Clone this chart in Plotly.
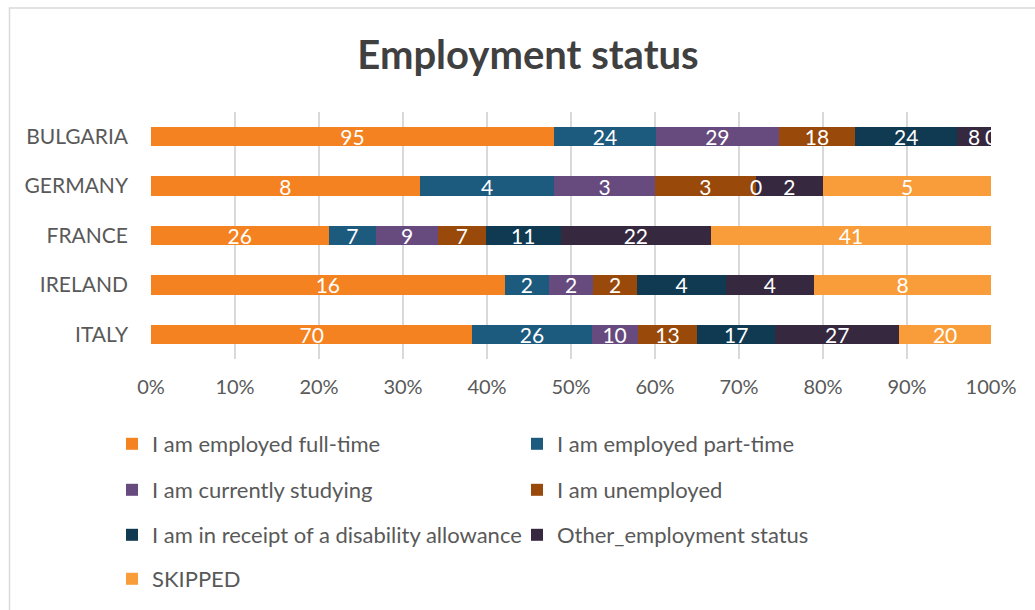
import plotly.graph_objects as go

# Survey counts per country, stacked to 100%
countries = ["ITALY", "IRELAND", "FRANCE", "GERMANY", "BULGARIA"]
statuses = [
    "I am employed full-time",
    "I am employed part-time",
    "I am currently studying",
    "I am unemployed",
    "I am in receipt of a disability allowance",
    "Other_employment status",
    "SKIPPED",
]
full_time = [70, 16, 26, 8, 95]
part_time = [26, 2, 7, 4, 24]
studying = [10, 2, 9, 3, 29]
unemployed = [13, 2, 7, 3, 18]
disability = [17, 4, 11, 0, 24]
other_status = [27, 4, 22, 2, 8]
skipped = [20, 8, 41, 5, 0]
x_ticks = [0, 10, 20, 30, 40, 50, 60, 70, 80, 90, 100]

series = [full_time, part_time, studying, unemployed, disability, other_status, skipped]
colors = ["#F58220", "#1D5B7E", "#674A7E", "#994A0A", "#103A52", "#36283F", "#F99D3A"]

FONT = "Lato"
GREY = "#595959"

# plot area in pixels
W, H = 1035, 610
ML, MR, MT, MB = 151, 44, 112, 250
PW, PH = W - ML - MR, H - MT - MB


def px_x(px):
    return (px - ML) / PW


def px_y(py):
    return (H - MB - py) / PH


# legend rows: two entries per row
legend_rows = ["legend", "legend", "legend2", "legend2", "legend3", "legend3", "legend4"]
row_y = {"legend": 444, "legend2": 490, "legend3": 535, "legend4": 579}

fig = go.Figure()
for name, vals, col, lg in zip(statuses, series, colors, legend_rows):
    fig.add_trace(go.Bar(
        y=countries, x=vals, name=name, orientation="h",
        marker=dict(color=col, line=dict(width=0)),
        text=[str(v) if v else "" for v in vals],
        texttemplate="%{text}",
        textposition="inside", insidetextanchor="middle",
        textangle=0, constraintext="none",
        insidetextfont=dict(color="white", size=21, family=FONT),
        legend=lg,
        hoverinfo="skip",
    ))

# zero-valued segments still carry a "0" label at their stacked position
annotations = []
for ci, c in enumerate(countries):
    total = sum(s[ci] for s in series)
    cum = 0
    for s in series:
        v = s[ci]
        if v == 0:
            annotations.append(dict(
                x=cum / total * 100, y=c, xref="x", yref="y", text="0",
                showarrow=False, font=dict(color="white", size=21, family=FONT),
            ))
        cum += v

legend_common = dict(
    orientation="h", xanchor="left", yanchor="middle", x=px_x(112),
    entrywidth=360, entrywidthmode="pixels",
    font=dict(size=22, color=GREY, family=FONT),
    bgcolor="rgba(0,0,0,0)", traceorder="normal",
)

layout_legends = {}
for key, py in row_y.items():
    layout_legends[key] = dict(legend_common, y=px_y(py))

fig.update_layout(
    width=W, height=H,
    margin=dict(l=ML, r=MR, t=MT, b=MB),
    paper_bgcolor="white", plot_bgcolor="white",
    barmode="stack", barnorm="percent", bargap=0.61,
    title=dict(text="<b>Employment status</b>", x=px_x(528), xref="paper", xanchor="center",
               y=1 - 55 / H, yanchor="middle",
               font=dict(size=40, color="#404040", family=FONT)),
    xaxis=dict(range=[0, 100], tickvals=x_ticks, ticktext=[f"{t}%" for t in x_ticks],
               showgrid=True, gridcolor="#D9D9D9", gridwidth=1.5, zeroline=False,
               showline=False, ticks="", ticklabelstandoff=14,
               tickfont=dict(size=20, color=GREY, family=FONT), fixedrange=True),
    yaxis=dict(showgrid=False, showline=False, ticks="", ticklabelstandoff=22,
               tickfont=dict(size=21, color=GREY, family=FONT), fixedrange=True),
    annotations=annotations,
    shapes=[dict(type="rect", xref="paper", yref="paper",
                 x0=px_x(9.5), x1=px_x(1060), y0=px_y(640), y1=px_y(7.5),
                 line=dict(color="#D9D9D9", width=1.5), layer="below")],
    showlegend=True,
    **layout_legends,
)

fig.write_html("out.html")
